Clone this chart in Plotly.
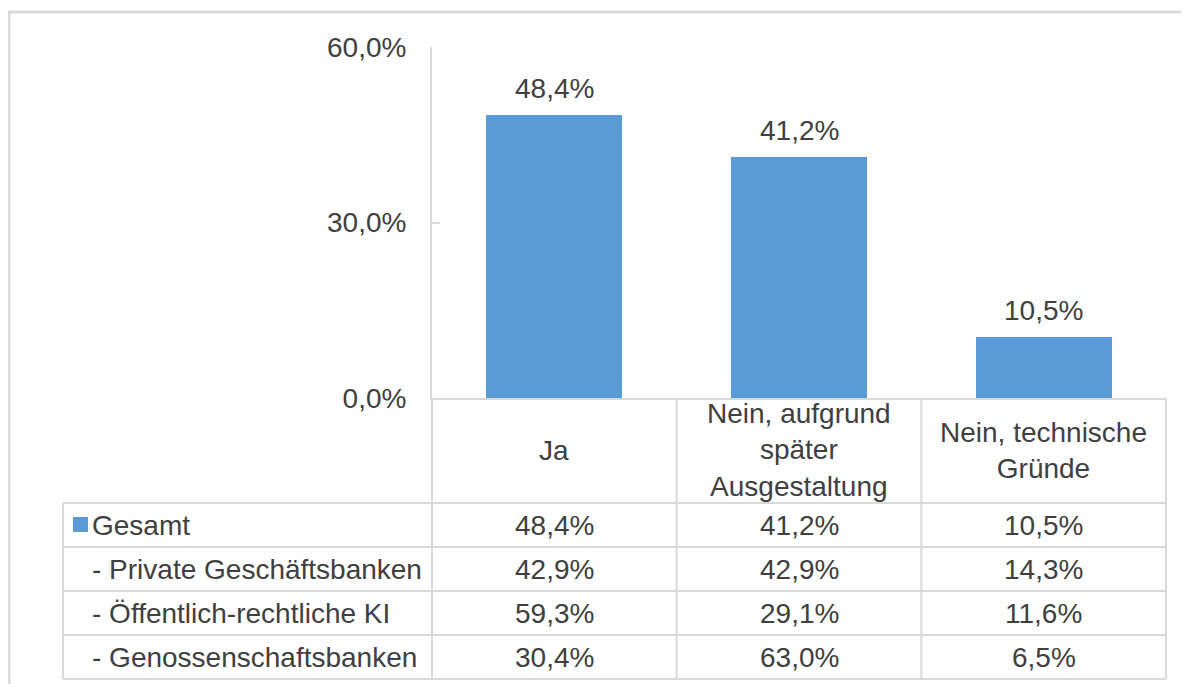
import plotly.graph_objects as go

# data
categories = ["Ja", "Nein, aufgrund<br>später<br>Ausgestaltung", "Nein, technische<br>Gründe"]
gesamt = [48.4, 41.2, 10.5]
row_labels = ["Gesamt", "- Private Geschäftsbanken", "- Öffentlich-rechtliche KI", "- Genossenschaftsbanken"]
private = [42.9, 42.9, 14.3]
oeffentlich = [59.3, 29.1, 11.6]
genossen = [30.4, 63.0, 6.5]
ytick_vals = [0, 30, 60]
ytick_text = ["0,0%", "30,0%", "60,0%"]

rows = [gesamt, private, oeffentlich, genossen]

OFF = 8  # page body margin
W, H = 1189 - OFF, 684 - OFF
BLUE = "#5B9BD5"
GRID = "#D9D9D9"
TXT = "#404040"
FONT = "Liberation Sans, Arial, sans-serif"
FS = 28


def pct(v):
    return f"{v:.1f}%".replace(".", ",")


# screen pixel layout
x_axis, x_right, x_tab = 432, 1166, 63
y_top, y_zero = 47, 398
y_head = 503
row_h = 44


def px(x):
    return (x - x_axis) / (x_right - x_axis)


def py(y):
    return (y_zero - y) / (y_zero - y_top)


fig = go.Figure()
fig.add_trace(go.Bar(
    x=[0, 1, 2], y=gesamt, width=0.555,
    marker=dict(color=BLUE, line=dict(width=0)),
    hoverinfo="skip",
))

shapes = []
line = dict(color=GRID, width=2)
# outer frame
shapes.append(dict(type="line", xref="paper", yref="paper", x0=px(7), x1=px(1200), y0=py(12), y1=py(12), line=dict(color=GRID, width=3)))
shapes.append(dict(type="line", xref="paper", yref="paper", x0=px(9), x1=px(9), y0=py(12), y1=py(700), line=dict(color=GRID, width=3)))
# category header vertical separators
for i in range(4):
    xs = x_axis + i * (x_right - x_axis) / 3
    shapes.append(dict(type="line", xref="paper", yref="paper", x0=px(xs), x1=px(xs), y0=py(y_zero), y1=py(y_head + 4 * row_h), line=line))
# table left border
shapes.append(dict(type="line", xref="paper", yref="paper", x0=px(x_tab), x1=px(x_tab), y0=py(y_head), y1=py(y_head + 4 * row_h), line=line))
# horizontal lines
for r in range(5):
    yy = y_head + r * row_h
    shapes.append(dict(type="line", xref="paper", yref="paper", x0=px(x_tab), x1=px(x_right), y0=py(yy), y1=py(yy), line=line))
# legend square
shapes.append(dict(type="rect", xref="paper", yref="paper", x0=px(73), x1=px(88), y0=py(532), y1=py(517),
                   fillcolor=BLUE, line=dict(width=0)))

annotations = []
# bar labels
for i, v in enumerate(gesamt):
    annotations.append(dict(x=i, y=v, xref="x", yref="y", text=pct(v), showarrow=False,
                            yanchor="bottom", yshift=9, font=dict(size=FS, color=TXT, family=FONT)))
# category header
for i, c in enumerate(categories):
    annotations.append(dict(x=i, y=py((y_zero + y_head) / 2), xref="x", yref="paper", text=c, showarrow=False,
                            yanchor="middle", font=dict(size=FS, color=TXT, family=FONT)))
# table rows
for r, (lab, vals) in enumerate(zip(row_labels, rows)):
    yc = py(y_head + r * row_h + row_h / 2)
    annotations.append(dict(x=px(90), y=yc, xref="paper", yref="paper", text=lab, showarrow=False,
                            xanchor="left", yanchor="middle", font=dict(size=FS, color=TXT, family=FONT)))
    for i, v in enumerate(vals):
        annotations.append(dict(x=i, y=yc, xref="x", yref="paper", text=pct(v), showarrow=False,
                                yanchor="middle", font=dict(size=FS, color=TXT, family=FONT)))

fig.update_layout(
    width=W, height=H,
    margin=dict(l=x_axis - OFF, r=W - (x_right - OFF), t=y_top - OFF, b=H - (y_zero - OFF), pad=0),
    paper_bgcolor="white", plot_bgcolor="white",
    showlegend=False,
    font=dict(family=FONT, size=FS, color=TXT),
    xaxis=dict(range=[-0.5, 2.5], showticklabels=False, showgrid=False, zeroline=False,
               showline=True, linecolor=GRID, linewidth=2, ticks="", fixedrange=True),
    yaxis=dict(range=[0, 60], tickvals=ytick_vals, ticktext=ytick_text, showgrid=False, zeroline=False,
               showline=True, linecolor=GRID, linewidth=2, ticks="inside", ticklen=8, tickcolor=GRID,
               tickwidth=2, ticklabelstandoff=18, tickfont=dict(size=FS, color=TXT, family=FONT),
               fixedrange=True),
    shapes=shapes,
    annotations=annotations,
    bargap=0,
)

fig.write_html("out.html")
